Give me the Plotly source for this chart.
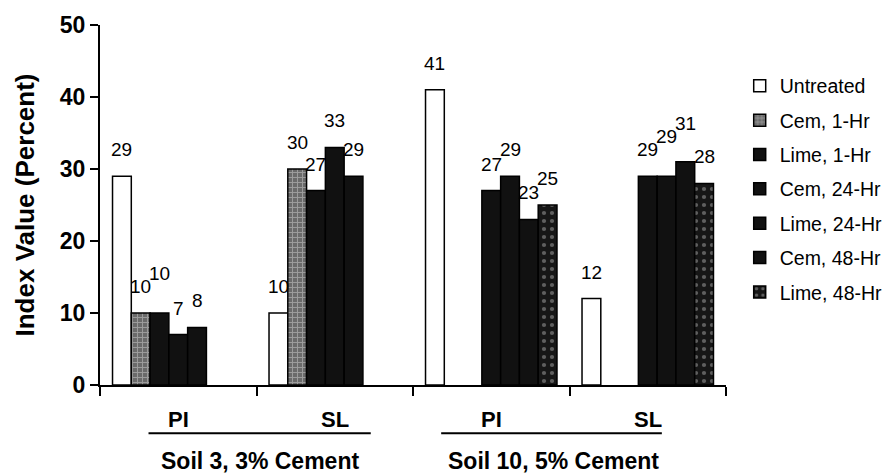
import plotly.graph_objects as go

categories = ["Soil 3 PI", "Soil 3 SL", "Soil 10 PI", "Soil 10 SL"]
cat_labels = ["PI", "SL", "PI", "SL"]
series_names = ["Untreated", "Cem, 1-Hr", "Lime, 1-Hr", "Cem, 24-Hr",
                "Lime, 24-Hr", "Cem, 48-Hr", "Lime, 48-Hr"]
untreated = [29, 10, 41, 12]
cem_1hr = [10, 30, None, None]
lime_1hr = [10, 27, None, None]
cem_24hr = [7, 33, 27, 29]
lime_24hr = [8, 29, 29, 29]
cem_48hr = [None, None, 23, 31]
lime_48hr = [None, None, 25, 28]
series_values = [untreated, cem_1hr, lime_1hr, cem_24hr, lime_24hr, cem_48hr, lime_48hr]
group_labels = ["Soil 3, 3% Cement", "Soil 10, 5% Cement"]
y_ticks = [0, 10, 20, 30, 40, 50]

FONT = "Liberation Sans, Arial, sans-serif"
W, H = 888, 476
ML, MR, MT, MB = 100, 162, 17, 91
BARGAP = 0.16
Y_MAX = 50
LABEL_SIZE = 19

styles = [
    dict(color="white", pattern=None),
    dict(color="#6a6a6a", pattern=dict(shape="+", fgcolor="#cfcfcf", size=5, solidity=0.35)),
    dict(color="#111111", pattern=None),
    dict(color="#111111", pattern=None),
    dict(color="#111111", pattern=None),
    dict(color="#111111", pattern=None),
    dict(color="#161616", pattern=dict(shape=".", fgcolor="#a8a8a8", size=8, solidity=0.22)),
]

fig = go.Figure()
for i, (name, vals) in enumerate(zip(series_names, series_values)):
    st = styles[i]
    marker = dict(color=st["color"], line=dict(color="black", width=1.5))
    if st["pattern"] is not None:
        marker["pattern"] = dict(st["pattern"], bgcolor=st["color"], fillmode="overlay")
    fig.add_trace(go.Bar(
        x=categories, y=vals, name=name, marker=marker,
        legendgroup=name, hoverinfo="skip",
    ))

# value labels above bars (raised a little where neighbours would collide)
plot_w = W - ML - MR
plot_h = H - MT - MB
px_per_unit = plot_h / Y_MAX
cat_w = plot_w / len(categories)
n = len(series_names)
bw = cat_w * (1 - BARGAP) / n
digit_w = LABEL_SIZE * 0.556
line_h = LABEL_SIZE * 0.7
base_shift = 14
annotations = []
for ci, c in enumerate(categories):
    prev = None  # (text, height in px)
    for i in range(n):
        v = series_values[i][ci]
        if v is None:
            prev = None
            continue
        txt = str(v)
        pos = v * px_per_unit
        if prev is not None:
            p_txt, p_pos = prev
            h_overlap = (len(p_txt) + len(txt)) / 2 * digit_w > bw
            if h_overlap and abs(p_pos - pos) < line_h and pos >= p_pos - 3:
                pos = p_pos + line_h
        prev = (txt, pos)
        annotations.append(dict(
            x=c, y=v, xref="x", yref="y", text=txt, showarrow=False,
            yanchor="bottom", xanchor="center",
            yshift=base_shift + (pos - v * px_per_unit),
            xshift=(i - (n - 1) / 2) * bw,
            font=dict(family=FONT, size=LABEL_SIZE, color="black"),
        ))

# category labels below axis
for c, lab in zip(categories, cat_labels):
    annotations.append(dict(
        x=c, y=-0.097, xref="x", yref="paper", text=lab, showarrow=False,
        yanchor="middle", xanchor="center",
        font=dict(family=FONT, size=22, color="black", weight="bold"),
    ))

group_centers = [0.52, 2.4]
underline_spans = [(-0.19, 1.23), (1.68, 3.09)]
for lab, gc in zip(group_labels, group_centers):
    annotations.append(dict(
        x=gc, y=-0.211, xref="x", yref="paper", text=lab, showarrow=False,
        yanchor="middle", xanchor="center",
        font=dict(family=FONT, size=23, color="black", weight="bold"),
    ))
shapes = []
for x0, x1 in underline_spans:
    shapes.append(dict(type="line", xref="x", yref="paper", x0=x0, x1=x1,
                       y0=-0.134, y1=-0.134, line=dict(color="black", width=2)))

fig.update_layout(
    width=W, height=H, autosize=False,
    margin=dict(l=ML, r=MR, t=MT, b=MB, pad=0),
    paper_bgcolor="white", plot_bgcolor="white",
    barmode="group", bargap=BARGAP, bargroupgap=0,
    font=dict(family=FONT, color="black"),
    annotations=annotations, shapes=shapes,
    showlegend=True,
    legend=dict(xref="container", yref="container", x=0.833, y=0.86,
                xanchor="left", yanchor="top", maxheight=420,
                font=dict(family=FONT, size=19.5, color="black"),
                traceorder="grouped", tracegroupgap=6, itemwidth=30,
                bgcolor="rgba(0,0,0,0)"),
)
fig.update_xaxes(
    type="category", showline=True, linecolor="black", linewidth=2,
    ticks="outside", tickson="boundaries", ticklen=9, tickwidth=2, tickcolor="black",
    showticklabels=False, showgrid=False, zeroline=False,
    range=[-0.5, len(categories) - 0.5],
)
fig.update_yaxes(
    range=[0, Y_MAX], tickvals=y_ticks, showline=True, linecolor="black", linewidth=2,
    ticks="outside", ticklen=8, tickwidth=2, tickcolor="black",
    tickfont=dict(family=FONT, size=23, color="black", weight="bold"),
    showgrid=False, zeroline=False,
    title=dict(text="Index Value (Percent)", standoff=18,
               font=dict(family=FONT, size=26, color="black", weight="bold")),
)

fig.write_html("out.html")
